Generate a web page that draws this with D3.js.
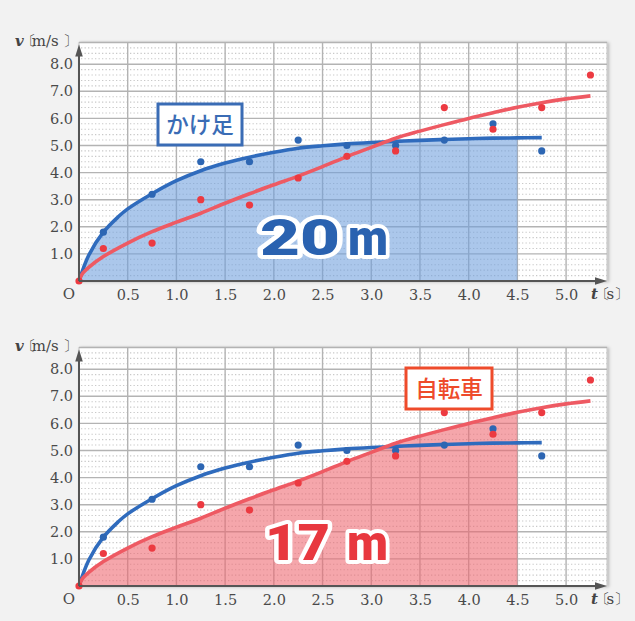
<!DOCTYPE html>
<html><head><meta charset="utf-8">
<script src="https://cdn.jsdelivr.net/npm/d3@7/dist/d3.min.js"></script>
<style>
html,body{margin:0;padding:0;background:#f2f2f2;}
svg{display:block;}
</style></head>
<body>
<script>
// ---- data ----
const xTickValues = [0.5,1.0,1.5,2.0,2.5,3.0,3.5,4.0,4.5,5.0];
const xTickLabels = ["0.5","1.0","1.5","2.0","2.5","3.0","3.5","4.0","4.5","5.0"];
const yTickValues = [1,2,3,4,5,6,7,8];
const yTickLabels = ["1.0","2.0","3.0","4.0","5.0","6.0","7.0","8.0"];

const runDotT  = [0.25,0.75,1.25,1.75,2.25,2.75,3.25,3.75,4.25,4.75];
const runDotV  = [1.8, 3.2, 4.4, 4.4, 5.2, 5.0, 5.0, 5.2, 5.8, 4.8];
const bikeDotT = [0, 0.25,0.75,1.25,1.75,2.25,2.75,3.25,3.75,4.25,4.75,5.25];
const bikeDotV = [0, 1.2, 1.4, 3.0, 2.8, 3.8, 4.6, 4.8, 6.4, 5.6, 6.4, 7.6];

const runCurveT = [0,0.1,0.25,0.4,0.5,0.75,1.0,1.25,1.5,1.75,2.0,2.25,2.5,2.75,3.0,3.25,3.5,3.75,4.0,4.25,4.5,4.75];
const runCurveV = [0,0.95,1.8,2.36,2.66,3.22,3.7,4.07,4.35,4.57,4.75,4.9,4.99,5.06,5.11,5.15,5.19,5.22,5.25,5.27,5.28,5.29];
const bikeCurveT = [0,0.03,0.1,0.25,0.5,0.75,1.0,1.25,1.5,1.75,2.0,2.25,2.5,2.75,3.0,3.25,3.5,3.75,4.0,4.25,4.5,4.75,5.0,5.25];
const bikeCurveV = [0,0.24,0.5,0.9,1.4,1.82,2.17,2.5,2.87,3.22,3.55,3.87,4.22,4.59,4.93,5.27,5.53,5.77,6.0,6.21,6.41,6.58,6.72,6.83];

const fillEndT = 4.5;
const panelTitles = ["かけ足","自転車"];
const distanceLabels = ["20","17"];

// ---- drawing ----
const W = 635, H = 621;
const SERIF = "'DejaVu Serif', 'Liberation Serif', serif";
const svg = d3.select("body").append("svg").attr("width",W).attr("height",H);
svg.append("rect").attr("width",W).attr("height",H).attr("fill","#f2f2f2");

const defs = svg.append("defs");
const f = defs.append("filter").attr("id","sh").attr("x","-5%").attr("y","-5%").attr("width","110%").attr("height","110%");
f.append("feDropShadow").attr("dx",1.5).attr("dy",0.5).attr("stdDeviation",1.5).attr("flood-color","#000").attr("flood-opacity",0.25);

const x = d3.scaleLinear().domain([0,5.42]).range([79,607]);
const BLUE = "#2f6bbd", RED = "#ee5a63", BLUE_DOT = "#2d66b3", RED_DOT = "#ec3a41";

function zip(ts, vs){ return ts.map((t,i)=>({t, v: vs[i]})); }

const panels = [
  {axisY: 281, fillData: runCurveT, fillV: runCurveV, fillColor:"#6f9fdc", title: panelTitles[0], titleColor:"#3a6cb5",
   box:{x0:158,y0:104,x1:242,y1:145}, big: distanceLabels[0], bigColor:"#2a62b0", num:{x0:260,x1:340,base:255}, m:{x0:348,x1:388}},
  {axisY: 586, fillData: bikeCurveT, fillV: bikeCurveV, fillColor:"#ed666e", title: panelTitles[1], titleColor:"#ee4b2b",
   box:{x0:406,y0:368,x1:492,y1:409}, big: distanceLabels[1], bigColor:"#e8383f", num:{x0:265,x1:330,base:560}, m:{x0:347,x1:388}}
];

const curve = d3.curveCatmullRom.alpha(0.5);

panels.forEach((p, pi) => {
  const y = d3.scaleLinear().domain([0,8.8]).range([p.axisY, p.axisY - 238.5]);
  const g = svg.append("g");
  const x0 = x(0), x1 = x(5.42), yTop = y(8.8), yBot = y(0);

  // plot area
  g.append("rect").attr("x",x0).attr("y",yTop).attr("width",x1-x0).attr("height",yBot-yTop)
    .attr("fill","#fff").attr("stroke","#c4c4c4").attr("stroke-width",1).attr("filter","url(#sh)");

  // minor dotted horizontal lines
  const minor = d3.range(1,44).map(i=>i*0.2).filter(v => Math.abs(v - Math.round(v)) > 0.01 && v < 8.79);
  g.selectAll(".minor").data(minor).join("line")
    .attr("x1",x0+2).attr("x2",x1).attr("y1",d=>y(d)).attr("y2",d=>y(d))
    .attr("stroke","#c9c9c9").attr("stroke-width",1.1).attr("stroke-dasharray","1.3,2.2");

  // major grid
  g.selectAll(".vmaj").data(xTickValues).join("line")
    .attr("x1",d=>x(d)).attr("x2",d=>x(d)).attr("y1",yTop).attr("y2",yBot)
    .attr("stroke","#b3b3b3").attr("stroke-width",1.4);
  g.selectAll(".hmaj").data(yTickValues.concat([8.8])).join("line")
    .attr("x1",x0).attr("x2",x1).attr("y1",d=>y(d)).attr("y2",d=>y(d))
    .attr("stroke","#b3b3b3").attr("stroke-width",1.4);

  // fill area
  const fd = zip(p.fillData, p.fillV).filter(d => d.t <= fillEndT + 1e-9);
  const area = d3.area().x(d=>x(d.t)).y0(y(0)).y1(d=>y(d.v)).curve(curve);
  g.append("path").datum(fd).attr("d",area).attr("fill",p.fillColor).attr("fill-opacity",0.58);

  // lines
  const line = d3.line().x(d=>x(d.t)).y(d=>y(d.v)).curve(curve);
  g.append("path").datum(zip(runCurveT, runCurveV)).attr("d",line)
    .attr("fill","none").attr("stroke",BLUE).attr("stroke-width",3.6).attr("stroke-linecap","butt");
  g.append("path").datum(zip(bikeCurveT, bikeCurveV)).attr("d",line)
    .attr("fill","none").attr("stroke",RED).attr("stroke-width",3.6).attr("stroke-linecap","butt");

  // dots
  g.selectAll(".bd").data(zip(runDotT, runDotV)).join("circle")
    .attr("cx",d=>x(d.t)).attr("cy",d=>y(d.v)).attr("r",3.6).attr("fill",BLUE_DOT);
  g.selectAll(".rd").data(zip(bikeDotT, bikeDotV)).join("circle")
    .attr("cx",d=>x(d.t)).attr("cy",d=>y(d.v)).attr("r",3.6).attr("fill",RED_DOT);

  // axes lines with arrows
  g.append("line").attr("x1",x0).attr("x2",x1-10).attr("y1",yBot).attr("y2",yBot)
    .attr("stroke","#555").attr("stroke-width",2);
  g.append("path").attr("d",`M${x1},${yBot} L${x1-12},${yBot-3.8} L${x1-12},${yBot+3.8} Z`).attr("fill","#555");
  g.append("line").attr("x1",x0).attr("x2",x0).attr("y1",yBot).attr("y2",yTop+10)
    .attr("stroke","#555").attr("stroke-width",2);
  g.append("path").attr("d",`M${x0},${yTop+2} L${x0-3.8},${yTop+14} L${x0+3.8},${yTop+14} Z`).attr("fill","#555");

  // tick labels via d3 axes
  const ax = d3.axisBottom(x).tickValues(xTickValues).tickFormat((d,i)=>xTickLabels[i]).tickSize(0).tickPadding(9);
  const axg = g.append("g").attr("transform",`translate(0,${yBot})`).call(ax);
  axg.attr("font-family",null);
  axg.select(".domain").remove();
  axg.selectAll("text").style("font-family",SERIF).style("font-size","14.5px").attr("fill","#4a4a4a");

  const ay = d3.axisLeft(y).tickValues(yTickValues).tickFormat((d,i)=>yTickLabels[i]).tickSize(0).tickPadding(6);
  const ayg = g.append("g").attr("transform",`translate(${x0},0)`).call(ay);
  ayg.attr("font-family",null);
  ayg.select(".domain").remove();
  ayg.selectAll("text").style("font-family",SERIF).style("font-size","14.5px").attr("fill","#4a4a4a");

  // origin
  g.append("text").attr("x",69).attr("y",yBot+18).attr("text-anchor","middle")
    .style("font-family",SERIF).style("font-size","15px").attr("fill","#4a4a4a").text("O");

  // axis names (single text elements, glyphs nudged with dx lists)
  const yl = g.append("text").attr("x",15).attr("y",yTop+3).attr("fill","#444").style("font-family",SERIF).style("font-size","15px");
  yl.append("tspan").style("font-style","italic").style("font-weight","bold").text("v");
  yl.append("tspan").attr("dx","-3 -4 0 0 4").text("〔m/s〕");

  const xl = g.append("text").attr("x",591).attr("y",yBot+18).attr("fill","#444").style("font-family",SERIF).style("font-size","15px");
  xl.append("tspan").style("font-style","italic").style("font-weight","bold").text("t");
  xl.append("tspan").attr("dx","-2.5 -4 0").text("〔s〕");

  // title box
  const b = p.box;
  g.append("rect").attr("x",b.x0).attr("y",b.y0).attr("width",b.x1-b.x0).attr("height",b.y1-b.y0)
    .attr("fill","#fff").attr("stroke",p.titleColor).attr("stroke-width",3);
  g.append("text").attr("x",(b.x0+b.x1)/2).attr("y",(b.y0+b.y1)/2 + 8).attr("text-anchor","middle")
    .style("font-family","'Noto Sans CJK JP', sans-serif").style("font-weight",500).style("font-size","22.5px")
    .attr("fill",p.titleColor).text(p.title);

  // big distance text
  const bigStyle = sel => sel.style("font-family","Roboto, Lato, 'Noto Sans', sans-serif").style("font-weight",900)
    .style("font-size","50px").attr("fill",p.bigColor).attr("stroke","#fff").attr("stroke-width",8)
    .attr("stroke-linejoin","round").attr("paint-order","stroke");
  g.append("text").attr("x",p.num.x0).attr("y",p.num.base).attr("textLength",p.num.x1-p.num.x0)
    .attr("lengthAdjust","spacingAndGlyphs").call(bigStyle).text(p.big);
  g.append("text").attr("x",p.m.x0).attr("y",p.num.base).attr("textLength",p.m.x1-p.m.x0)
    .attr("lengthAdjust","spacingAndGlyphs").call(bigStyle).text("m");
});
</script>
</body></html>
